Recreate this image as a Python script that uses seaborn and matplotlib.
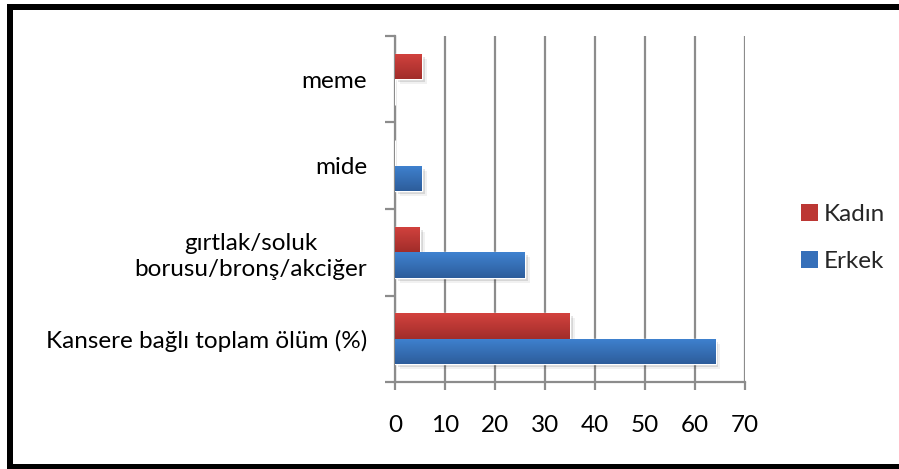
import numpy as np
import pandas as pd
import matplotlib
matplotlib.use("Agg")
import matplotlib.pyplot as plt
import seaborn as sns
from matplotlib.patches import Patch, Rectangle
from matplotlib import patheffects as pe
from matplotlib.colors import to_rgb

# Data
categories = ["meme", "mide", "gırtlak/soluk\nborusu/bronş/akciğer", "Kansere bağlı toplam ölüm (%)"]
series = ["Kadın", "Erkek"]
kadin = [5.4, 0.0, 5.0, 35.0]
erkek = [0.0, 5.4, 26.0, 64.1]
xticks = [0, 10, 20, 30, 40, 50, 60, 70]

df = pd.DataFrame({
    "kategori": categories * 2,
    "grup": [series[0]] * len(categories) + [series[1]] * len(categories),
    "deger": kadin + erkek,
})

sns.set_theme(style="white")
plt.rcParams["font.family"] = ["Lato", "DejaVu Sans"]
FS = 17.5

W, H = 899, 469
fig = plt.figure(figsize=(W / 100, H / 100), dpi=100)
fig.patch.set_facecolor("white")
fig.patch.set_edgecolor("white")
ax = fig.add_axes([395 / W, 1 - 382 / H, 350 / W, 346 / H])

base = {"Kadın": "#BC3734", "Erkek": "#356FB9"}
grad = {"Kadın": ("#D3423E", "#A12D2A"), "Erkek": ("#3F82D0", "#2D5D9B")}

sns.barplot(data=df, y="kategori", x="deger", hue="grup", order=categories,
            hue_order=series, palette=base, width=0.59, orient="h",
            saturation=1, legend=False, ax=ax, zorder=3)

ax.set_xlim(0, 70)
ax.set_ylim(3.5, -0.5)

# vertical gradient + soft shadow on each bar
bars = [p for p in ax.patches if isinstance(p, Rectangle) and p.get_width() > 0]
for p in bars:
    x0, y0, w, h = p.get_x(), p.get_y(), p.get_width(), p.get_height()
    fc = p.get_facecolor()[:3]
    key = min(grad, key=lambda k: sum((a - b) ** 2 for a, b in zip(to_rgb(base[k]), fc)))
    top, bot = np.array(to_rgb(grad[key][0])), np.array(to_rgb(grad[key][1]))
    t = np.linspace(0, 1, 64)[:, None]
    img = (top * (1 - t) + bot * t)[:, None, :]
    p.set_path_effects([
        pe.SimplePatchShadow(offset=(3.5, -3.5), shadow_rgbFace="k", alpha=0.06),
        pe.SimplePatchShadow(offset=(2.0, -2.0), shadow_rgbFace="k", alpha=0.12),
        pe.Normal()])
    im = ax.imshow(img, extent=(x0, x0 + w, y0 + h, y0), aspect="auto",
                   origin="upper", zorder=4, interpolation="bilinear")
    im.set_clip_path(p)

ax.set_xlim(0, 70)
ax.set_ylim(3.5, -0.5)

gray = "#8C8C8C"
ax.set_axisbelow(True)
ax.xaxis.grid(True, color=gray, linewidth=1.6)
ax.yaxis.grid(False)
for s in ["top", "right"]:
    ax.spines[s].set_visible(False)
for s in ["left", "bottom"]:
    ax.spines[s].set_color(gray)
    ax.spines[s].set_linewidth(1.6)

ax.set_xticks(xticks)
ax.set_xticklabels([str(v) for v in xticks])
ax.tick_params(axis="x", bottom=True, direction="out", length=6, width=1.6,
               color=gray, labelsize=FS, pad=18, labelcolor="black")

ax.set_yticks(range(len(categories)))
ax.set_yticklabels(categories)
ax.set_yticks(np.arange(-0.5, len(categories), 1), minor=True)
ax.tick_params(axis="y", which="major", left=True, length=0, labelsize=FS,
               pad=20, labelcolor="black")
ax.tick_params(axis="y", which="minor", left=True, direction="out", length=7,
               width=1.6, color=gray)
for lab in ax.get_yticklabels():
    lab.set_multialignment("center")
    lab.set_linespacing(1.3)

ax.set_xlabel("")
ax.set_ylabel("")

handles = [Patch(facecolor=base[s], edgecolor="none") for s in series]
fig.legend(handles, series, loc="center left", bbox_to_anchor=(801 / W, 1 - 238 / H),
           frameon=False, handlelength=0.7, handleheight=0.7, handletextpad=0.25,
           labelspacing=1.1, fontsize=FS, borderaxespad=0, borderpad=0)

# outer frame: filled black strips on the left, top and bottom
for (x, y, w, h) in [(7, 4, 6, 463), (7, 4, W, 6), (7, 464, W, 6)]:
    fig.add_artist(Rectangle((x / W, 1 - (y + h) / H), w / W, h / H,
                             transform=fig.transFigure, facecolor="black",
                             edgecolor="none", linewidth=0))

fig.savefig("out.png", dpi=100, facecolor="white")
